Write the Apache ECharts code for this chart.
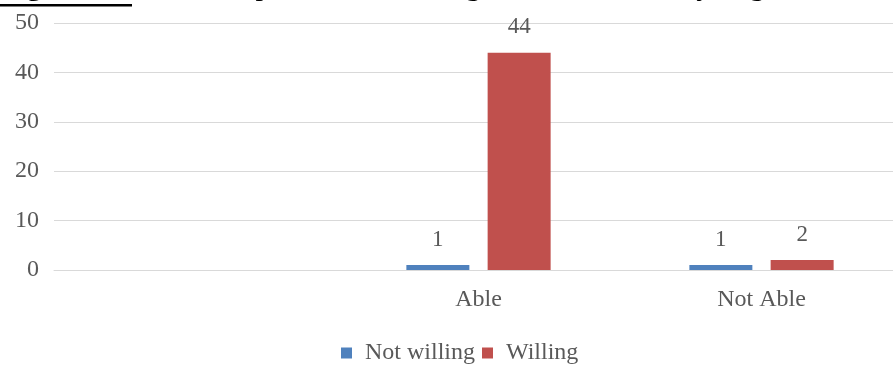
<!DOCTYPE html>
<html>
<head>
<meta charset="utf-8">
<script src="https://cdn.jsdelivr.net/npm/echarts@6/dist/echarts.min.js"></script>
<style>
html,body{margin:0;padding:0;background:#fff;}
#chart{width:893px;height:369px;}
</style>
</head>
<body>
<div id="chart"></div>
<script>
var categories = ['', 'Able', 'Not Able'];
var notWilling = [null, 1, 1];
var willing = [null, 44, 2];
var seriesNames = ['Not willing', 'Willing'];
var yTicks = { min: 0, max: 50, interval: 10 };
var captionLabel = 'Figure 10:';
var captionText = 'The expression of willingness and the ability to get tested';

var chart = echarts.init(document.getElementById('chart'));
var font = 'Liberation Serif';
var grey = '#595959';
chart.setOption({
  backgroundColor: '#fff',
  animation: false,
  textStyle: { fontFamily: font },
  graphic: [
    { type: 'text', left: 0, top: -28, style: { text: captionLabel, font: 'bold 30px "Liberation Serif"', fill: '#000' } },
    { type: 'text', left: 173, top: -28, style: { text: captionText, font: '30px "Liberation Serif"', fill: '#000' } },
    { type: 'rect', shape: { x: 0, y: 4, width: 132, height: 2.5 }, style: { fill: '#000' } }
  ],
  grid: { left: 54, width: 849, top: 23, bottom: 99, containLabel: false, outerBoundsMode: 'none' },
  legend: {
    bottom: -1, left: 336,
    itemWidth: 11, itemHeight: 11, itemGap: 7,
    icon: 'rect',
    textStyle: { fontFamily: font, fontSize: 24, color: grey, padding: [0, 0, 0, 8] },
    data: seriesNames
  },
  xAxis: {
    type: 'category', data: categories,
    axisLine: { lineStyle: { color: '#d9d9d9', width: 1 } },
    axisTick: { show: false },
    axisLabel: { fontFamily: font, fontSize: 24, color: grey, margin: 18 }
  },
  yAxis: {
    type: 'value', min: yTicks.min, max: yTicks.max, interval: yTicks.interval,
    axisLine: { show: false }, axisTick: { show: false },
    splitLine: { lineStyle: { color: '#d9d9d9', width: 1 } },
    axisLabel: { fontFamily: font, fontSize: 24, color: grey, margin: 15 }
  },
  series: [
    { name: seriesNames[0], type: 'bar', data: notWilling, barWidth: 63, barGap: '29%',
      itemStyle: { color: '#4F81BD' },
      label: { show: true, position: 'top', distance: 14, fontFamily: font, fontSize: 23, color: grey } },
    { name: seriesNames[1], type: 'bar', data: willing, barWidth: 63, barGap: '29%',
      itemStyle: { color: '#C0504D' },
      label: { show: true, position: 'top', distance: 14, fontFamily: font, fontSize: 23, color: grey } }
  ]
});
</script>
</body>
</html>
